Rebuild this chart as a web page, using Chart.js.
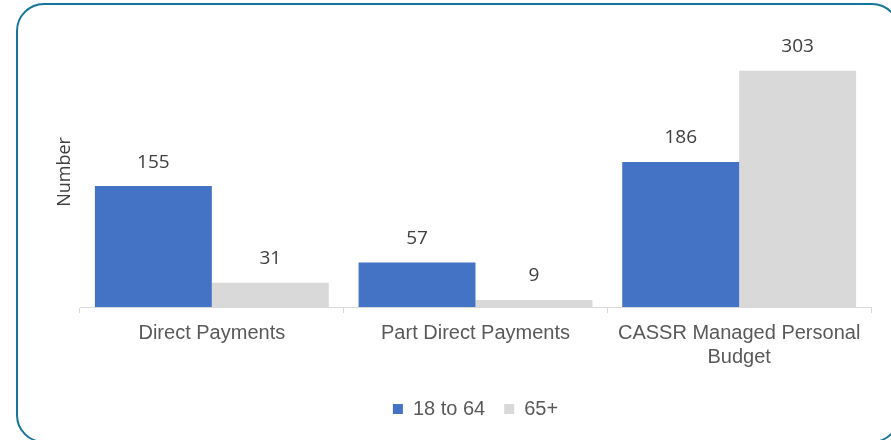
<!DOCTYPE html>
<html>
<head>
<meta charset="utf-8">
<script src="https://cdn.jsdelivr.net/npm/chart.js@4"></script>
<style>
  html, body { margin: 0; padding: 0; background: #ffffff; }
  body { width: 891px; height: 440px; position: relative; overflow: hidden; }
  #wrap { position: absolute; left: 0; top: 0; width: 891px; height: 440px; }
  #frame {
    position: absolute; left: 16px; top: 3px; width: 884px; height: 440px;
    border: 2px solid #15759b; border-radius: 28px; box-sizing: border-box;
    pointer-events: none;
  }
</style>
</head>
<body>
<div id="wrap"><canvas id="chart" width="891" height="440"></canvas></div>
<div id="frame"></div>
<script>
// Chart data
const categories = ['Direct Payments', 'Part Direct Payments', ['CASSR Managed Personal', 'Budget']];
const seriesNames = ['18 to 64', '65+'];
const age18to64 = [155, 57, 186];
const age65plus = [31, 9, 303];
const seriesColors = ['#4472C4', '#D9D9D9'];

// Value labels above each bar
const valueLabels = {
    id: 'valueLabels',
    afterDatasetsDraw(chart) {
        const ctx = chart.ctx;
        ctx.save();
        ctx.font = '19px "Open Sans"';
        ctx.fillStyle = '#404040';
        ctx.textAlign = 'center';
        ctx.textBaseline = 'middle';
        chart.data.datasets.forEach((ds, i) => {
            chart.getDatasetMeta(i).data.forEach((bar, j) => {
                ctx.fillText(ds.data[j], bar.x, bar.y - 24);
            });
        });
        ctx.restore();
    }
};

// Rotated y-axis title
const yTitle = {
    id: 'yTitle',
    afterDraw(chart) {
        const ctx = chart.ctx;
        ctx.save();
        ctx.translate(65, 172);
        ctx.rotate(-Math.PI / 2);
        ctx.font = '18px "Open Sans"';
        ctx.fillStyle = '#404040';
        ctx.textAlign = 'center';
        ctx.textBaseline = 'middle';
        ctx.fillText('Number', 0, 0);
        ctx.restore();
    }
};

new Chart(document.getElementById('chart').getContext('2d'), {
    type: 'bar',
    data: {
        labels: categories,
        datasets: [
            { label: seriesNames[0], data: age18to64, backgroundColor: seriesColors[0] },
            { label: seriesNames[1], data: age65plus, backgroundColor: seriesColors[1] }
        ]
    },
    options: {
        responsive: false,
        animation: false,
        categoryPercentage: 0.887,
        barPercentage: 1,
        layout: { padding: { left: 80, right: 20, top: 34, bottom: 11 } },
        scales: {
            x: {
                grid: { display: true, drawOnChartArea: false, drawTicks: true, tickLength: 6, color: '#D9D9D9' },
                border: { color: '#D9D9D9' },
                ticks: {
                    color: '#595959',
                    font: { family: '"Liberation Sans", Arial', size: 20 },
                    padding: 8,
                    maxRotation: 0
                },
                afterFit(scale) { scale.height = 73; }
            },
            y: {
                display: false,
                min: 0,
                max: 350
            }
        },
        plugins: {
            legend: {
                position: 'bottom',
                labels: {
                    boxWidth: 10,
                    boxHeight: 10,
                    padding: 19,
                    color: '#595959',
                    font: { family: '"Liberation Sans", Arial', size: 20 }
                }
            },
            tooltip: { enabled: false }
        }
    },
    plugins: [valueLabels, yTitle]
});
</script>
</body>
</html>
